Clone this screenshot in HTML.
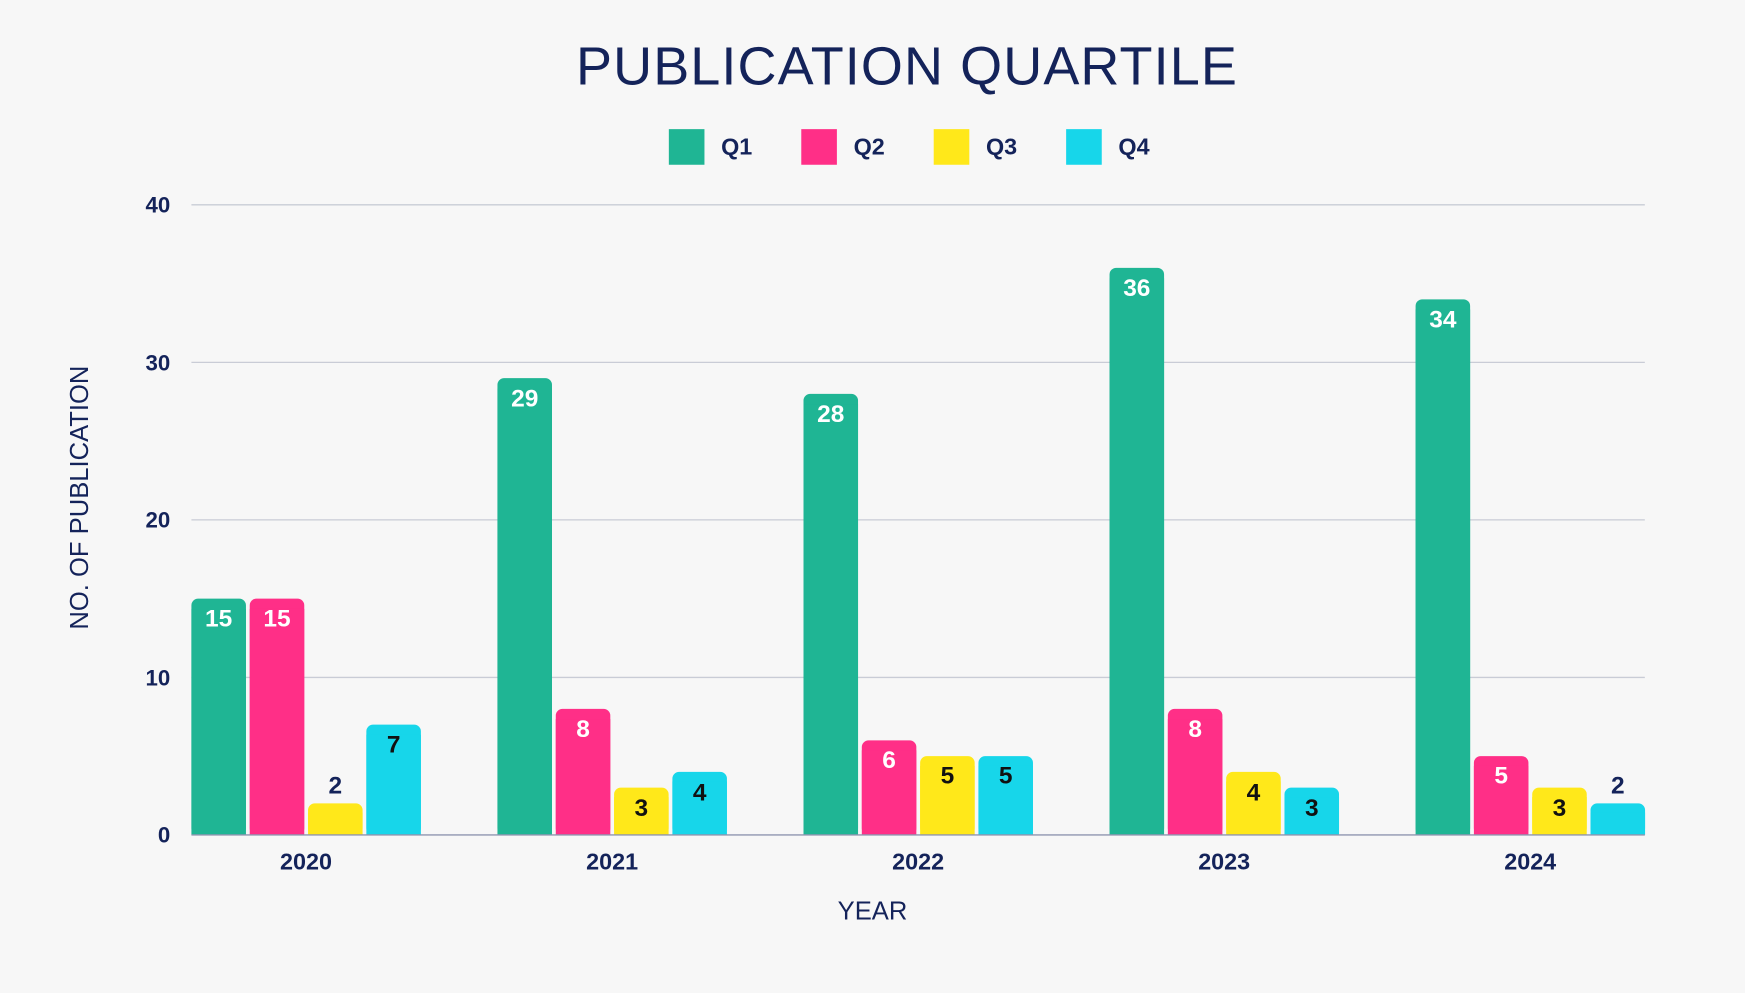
<!DOCTYPE html>
<html><head><meta charset="utf-8"><style>
html,body{margin:0;padding:0;background:#f7f7f7;}
svg{display:block;}
text{font-family:"Liberation Sans",sans-serif;}
</style></head><body>
<svg width="1745" height="993" viewBox="0 0 1568 892" preserveAspectRatio="none" xmlns="http://www.w3.org/2000/svg">
<rect width="1568" height="892" fill="#f7f7f7"/>
<text x="815" y="76" text-anchor="middle" font-size="48.5" fill="#14235a" letter-spacing="1">PUBLICATION QUARTILE</text>
<g font-size="21" font-weight="bold" fill="#14235a">
<rect x="601" y="116" width="32" height="32" fill="#1fb594"/><text x="648" y="139">Q1</text>
<rect x="720" y="116" width="32" height="32" fill="#ff2f87"/><text x="767" y="139">Q2</text>
<rect x="839" y="116" width="32" height="32" fill="#ffe81a"/><text x="886" y="139">Q3</text>
<rect x="958" y="116" width="32" height="32" fill="#17d6ea"/><text x="1005" y="139">Q4</text>
</g>
<g stroke="#c9ccd6" stroke-width="1.2">
<line x1="172" y1="184" x2="1478" y2="184"/>
<line x1="172" y1="325.5" x2="1478" y2="325.5"/>
<line x1="172" y1="467" x2="1478" y2="467"/>
<line x1="172" y1="608.5" x2="1478" y2="608.5"/>
</g>
<g font-size="20" font-weight="bold" fill="#14235a" text-anchor="end">
<text x="153" y="191">40</text><text x="153" y="333">30</text><text x="153" y="474">20</text><text x="153" y="616">10</text><text x="153" y="757">0</text>
</g>
<text transform="translate(79,447) rotate(-90)" text-anchor="middle" font-size="23" fill="#14235a">NO. OF PUBLICATION</text>
<text x="784" y="826" text-anchor="middle" font-size="23" fill="#14235a">YEAR</text>

<!-- bars -->
<g fill="#1fb594">
<rect x="172" y="537.75" width="49" height="212.25" rx="6"/><rect x="172" y="547" width="49" height="203"/>
<rect x="447" y="339.65" width="49" height="410.35" rx="6"/><rect x="447" y="349" width="49" height="401"/>
<rect x="722" y="353.8" width="49" height="396.2" rx="6"/><rect x="722" y="363" width="49" height="387"/>
<rect x="997" y="240.6" width="49" height="509.4" rx="6"/><rect x="997" y="250" width="49" height="500"/>
<rect x="1272" y="268.9" width="49" height="481.1" rx="6"/><rect x="1272" y="278" width="49" height="472"/>
</g>
<g fill="#ff2f87">
<rect x="224.4" y="537.75" width="49" height="212.25" rx="6"/><rect x="224.4" y="547" width="49" height="203"/>
<rect x="499.4" y="636.8" width="49" height="113.2" rx="6"/><rect x="499.4" y="646" width="49" height="104"/>
<rect x="774.4" y="665.1" width="49" height="84.9" rx="6"/><rect x="774.4" y="674" width="49" height="76"/>
<rect x="1049.4" y="636.8" width="49" height="113.2" rx="6"/><rect x="1049.4" y="646" width="49" height="104"/>
<rect x="1324.4" y="679.25" width="49" height="70.75" rx="6"/><rect x="1324.4" y="688" width="49" height="62"/>
</g>
<g fill="#ffe81a">
<rect x="276.8" y="721.7" width="49" height="28.3" rx="6"/><rect x="276.8" y="730" width="49" height="20"/>
<rect x="551.8" y="707.55" width="49" height="42.45" rx="6"/><rect x="551.8" y="716" width="49" height="34"/>
<rect x="826.8" y="679.25" width="49" height="70.75" rx="6"/><rect x="826.8" y="688" width="49" height="62"/>
<rect x="1101.8" y="693.4" width="49" height="56.6" rx="6"/><rect x="1101.8" y="702" width="49" height="48"/>
<rect x="1376.8" y="707.55" width="49" height="42.45" rx="6"/><rect x="1376.8" y="716" width="49" height="34"/>
</g>
<g fill="#17d6ea">
<rect x="329.2" y="650.95" width="49" height="99.05" rx="6"/><rect x="329.2" y="660" width="49" height="90"/>
<rect x="604.2" y="693.4" width="49" height="56.6" rx="6"/><rect x="604.2" y="702" width="49" height="48"/>
<rect x="879.2" y="679.25" width="49" height="70.75" rx="6"/><rect x="879.2" y="688" width="49" height="62"/>
<rect x="1154.2" y="707.55" width="49" height="42.45" rx="6"/><rect x="1154.2" y="716" width="49" height="34"/>
<rect x="1429.2" y="721.7" width="49" height="28.3" rx="6"/><rect x="1429.2" y="730" width="49" height="20"/>
</g>
<line x1="172" y1="750" x2="1478" y2="750" stroke="#8f96b0" stroke-width="1.2"/>

<g font-size="22" font-weight="bold" text-anchor="middle">
<g fill="#fff">
<text x="196.5" y="563">15</text><text x="248.9" y="563">15</text>
<text x="471.5" y="365">29</text><text x="523.9" y="662">8</text>
<text x="746.5" y="379">28</text><text x="798.9" y="690">6</text>
<text x="1021.5" y="266">36</text><text x="1073.9" y="662">8</text>
<text x="1296.5" y="294">34</text><text x="1348.9" y="704">5</text>
</g>
<g fill="#111">
<text x="353.7" y="676">7</text>
<text x="576.3" y="733">3</text><text x="628.7" y="719">4</text>
<text x="851.3" y="704">5</text><text x="903.7" y="704">5</text>
<text x="1126.3" y="719">4</text><text x="1178.7" y="733">3</text>
<text x="1401.3" y="733">3</text>
</g>
<g fill="#14235a">
<text x="301.3" y="713">2</text>
<text x="1453.7" y="713">2</text>
</g>
</g>

<g font-size="21" font-weight="bold" fill="#14235a" text-anchor="middle">
<text x="275" y="781">2020</text><text x="550" y="781">2021</text><text x="825" y="781">2022</text><text x="1100" y="781">2023</text><text x="1375" y="781">2024</text>
</g>
</svg>
</body></html>
